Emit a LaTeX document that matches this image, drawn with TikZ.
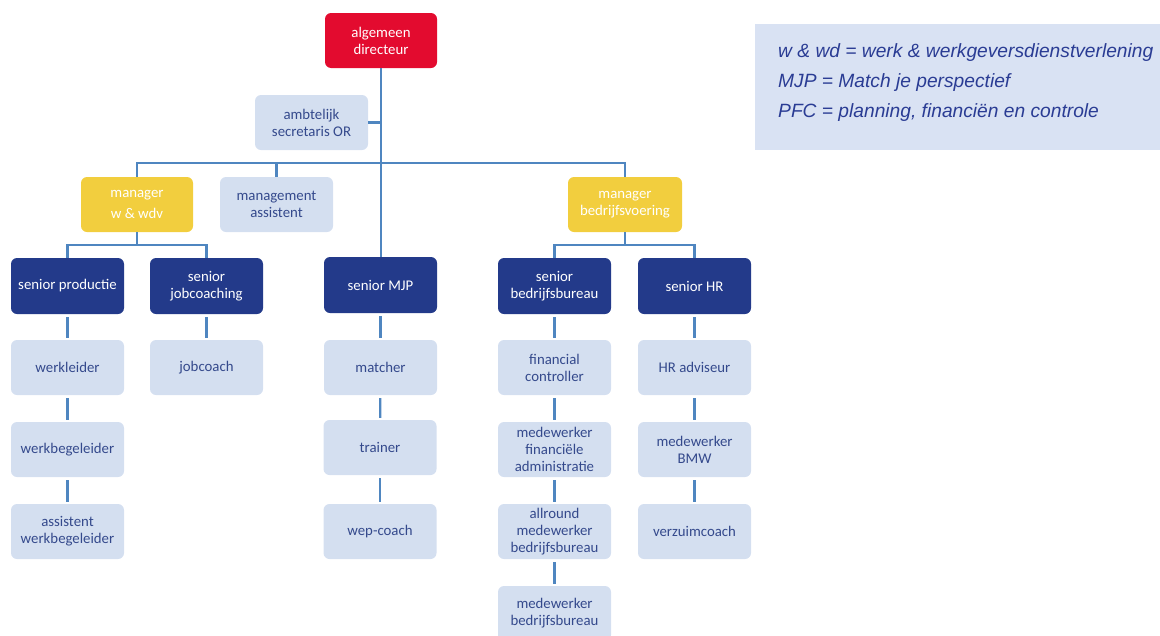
\documentclass[tikz,border=0pt]{standalone}
\usepackage{fontspec}
\setmainfont{Carlito}
\newfontfamily\legendfont{Liberation Sans}
\definecolor{cRed}{HTML}{E30B2F}
\definecolor{cYel}{HTML}{F2CE3E}
\definecolor{cNavy}{HTML}{233A8A}
\definecolor{cLight}{HTML}{D4DFF0}
\definecolor{cLightTxt}{HTML}{34498C}
\definecolor{cLine}{HTML}{4F86C0}
\definecolor{cLegBg}{HTML}{D9E2F3}
\definecolor{cLegTxt}{HTML}{2A3C94}
\begin{document}
\begin{tikzpicture}[x=1pt,y=-1pt,
  orgbox/.style={rounded corners=6pt, minimum width=113pt, minimum height=55pt,
    align=center, inner sep=1pt, font=\fontsize{14.8}{17}\selectfont},
  redbox/.style={orgbox, fill=cRed, text=white},
  yelbox/.style={orgbox, fill=cYel, text=white},
  navybox/.style={orgbox, fill=cNavy, text=white},
  lightbox/.style={orgbox, fill=cLight, text=cLightTxt},
  conn/.style={draw=cLine, line width=2.2pt},
  gap/.style={conn, shorten <=3pt, shorten >=2pt},
  legtxt/.style={anchor=base west, inner sep=0pt, text=cLegTxt,
    font=\legendfont\itshape\fontsize{19.2}{22}\selectfont}]
\useasboundingbox (0,0) rectangle (1160,635);

% legend
\path[fill=cLegBg] (755,24) rectangle (1160,150);
\node[legtxt] (leg1) at (778,57) {w \& wd = werk \& werkgeversdienstverlening};
\node[legtxt] (leg2) at (778,87) {MJP = Match je perspectief};
\node[legtxt] (leg3) at (778,117) {PFC = planning, financiën en controle};

% top
\node[redbox, minimum width=112pt] (dir) at (381,40.5) {algemeen\\directeur};
\node[lightbox] (amb) at (311.5,122.5) {ambtelijk\\secretaris OR};

% managers
\node[yelbox, minimum width=112pt] (mw) at (137,204.5) {manager\\[4pt]w \& wdv};
\node[lightbox] (ma) at (276.5,204.5) {management\\assistent};
\node[yelbox, minimum width=114pt] (mb) at (625,204.5) {manager\\bedrijfsvoering};

% seniors
\node[navybox, minimum height=56pt] (sp) at (67.5,286) {senior productie};
\node[navybox, minimum height=56pt] (sj) at (206.5,286) {senior\\jobcoaching};
\node[navybox, minimum height=56pt] (smjp) at (380.5,285) {senior MJP};
\node[navybox, minimum height=56pt] (sbb) at (554.5,286) {senior\\bedrijfsbureau};
\node[navybox, minimum height=56pt] (shr) at (694.5,286) {senior HR};

% column productie
\node[lightbox] (wl) at (67.5,367.5) {werkleider};
\node[lightbox] (wb) at (67.5,449.5) {werkbegeleider};
\node[lightbox] (awb) at (67.5,531.5) {assistent\\werkbegeleider};
% jobcoaching
\node[lightbox] (jc) at (206.5,367.5) {jobcoach};
% MJP
\node[lightbox] (mat) at (380.5,367.5) {matcher};
\node[lightbox] (tr) at (380,447.5) {trainer};
\node[lightbox] (wep) at (380,531.5) {wep-coach};
% bedrijfsbureau
\node[lightbox] (fc) at (554.5,367.5) {financial\\controller};
\node[lightbox] (mfa) at (554.5,449.5) {medewerker\\financiële\\administratie};
\node[lightbox] (amw) at (554.5,531.5) {allround\\medewerker\\bedrijfsbureau};
\node[lightbox] (mbb) at (554.5,613.5) {medewerker\\bedrijfsbureau};
% HR
\node[lightbox] (hra) at (694.5,367.5) {HR adviseur};
\node[lightbox] (bmw) at (694.5,449.5) {medewerker\\BMW};
\node[lightbox] (vz) at (694.5,531.5) {verzuimcoach};

% bus coordinates
\coordinate (bus) at (381,163);
\coordinate (bw) at (137,245);
\coordinate (bb) at (625,245);

% connectors
\draw[conn] (dir.south) -- (dir.south |- smjp.north);
\draw[conn] (amb.east) -- (amb.east -| dir.south);
\draw[conn] (mw.north) -- (mw.north |- bus) -- (mb.north |- bus) -- (mb.north);
\draw[conn] (ma.north) -- (ma.north |- bus);
\draw[conn] (mw.south) -- (bw);
\draw[conn] (sp.north) |- (bw) -| (sj.north);
\draw[conn] (mb.south) -- (bb);
\draw[conn] (sbb.north) |- (bb) -| (shr.north);

\draw[gap] (sp) -- (wl);
\draw[gap] (wl) -- (wb);
\draw[gap] (wb) -- (awb);
\draw[gap] (sj) -- (jc);
\draw[gap] (smjp) -- (mat);
\draw[gap] (mat) -- (tr);
\draw[gap] (tr) -- (wep);
\draw[gap] (sbb) -- (fc);
\draw[gap] (fc) -- (mfa);
\draw[gap] (mfa) -- (amw);
\draw[gap] (amw) -- (mbb);
\draw[gap] (shr) -- (hra);
\draw[gap] (hra) -- (bmw);
\draw[gap] (bmw) -- (vz);
\end{tikzpicture}
\end{document}
